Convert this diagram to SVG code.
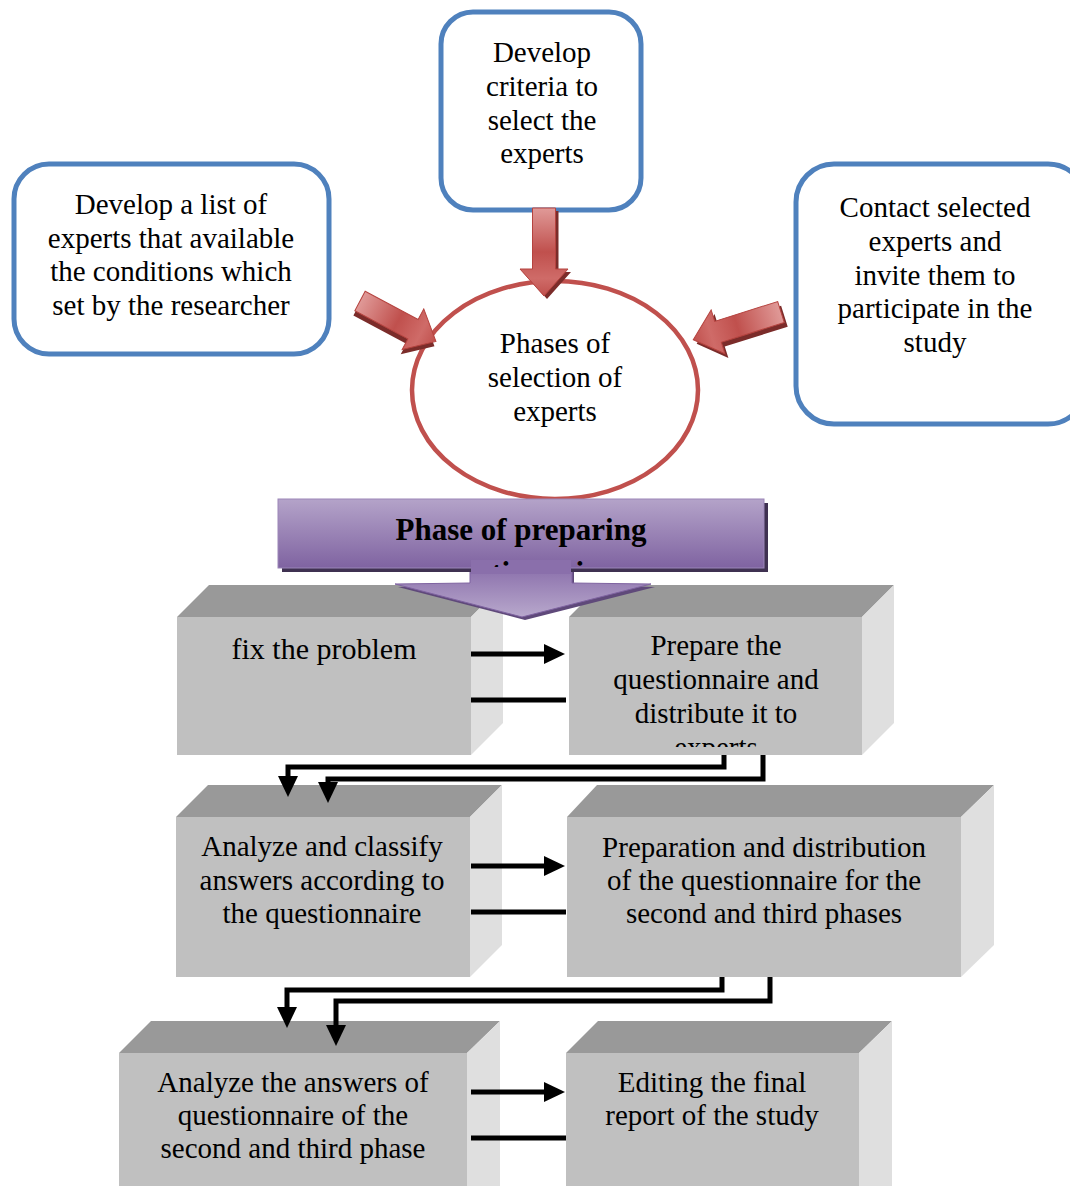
<svg xmlns="http://www.w3.org/2000/svg" width="1070" height="1186" viewBox="0 0 1070 1186">
<style>
  .t { font-family: "Liberation Serif", "Times New Roman", serif; font-size: 29px; fill: #000; text-anchor: middle; }
  .tb { font-family: "Liberation Serif", "Times New Roman", serif; font-size: 31px; font-weight: bold; fill: #000; text-anchor: middle; }
  .blue { fill: #fff; stroke: #4f81bd; stroke-width: 5; }
  .front { fill: #c0c0c0; }
  .top { fill: #999999; }
  .side { fill: #dfdfdf; }
  .con { fill: none; stroke: #000; stroke-width: 5; stroke-linejoin: miter; }
  .red { fill: url(#redg); stroke: #b5433f; stroke-width: 1; }
  .redsh { fill: #7b2c2a; }
</style>
<defs>
  <linearGradient id="redg" x1="0" y1="0" x2="1" y2="0">
    <stop offset="0" stop-color="#e09a98"/>
    <stop offset="0.5" stop-color="#c0504d"/>
    <stop offset="0.8" stop-color="#cf6b68"/>
    <stop offset="1" stop-color="#c0504d"/>
  </linearGradient>
  <linearGradient id="purg" x1="0" y1="0" x2="0" y2="1">
    <stop offset="0" stop-color="#b4a3c9"/>
    <stop offset="1" stop-color="#7f63a1"/>
  </linearGradient>
  <linearGradient id="purg2" x1="0" y1="0" x2="0" y2="1">
    <stop offset="0" stop-color="#8a6fab"/>
    <stop offset="1" stop-color="#b8a8cc"/>
  </linearGradient>
  <marker id="ah" markerUnits="userSpaceOnUse" markerWidth="21" markerHeight="20" viewBox="0 -10 21 20" refX="1" refY="0" orient="auto">
    <path d="M0,-10 L21,0 L0,10 z" fill="#000"/>
  </marker>
  <clipPath id="bannerClip"><rect x="278" y="499" width="486" height="68"/></clipPath>
  <clipPath id="prepClip"><rect x="569" y="617" width="293" height="130"/></clipPath>
</defs>

<!-- Blue boxes -->
<g id="node-criteria">
  <rect class="blue" x="441" y="12" width="200" height="198" rx="32"/>
  <text class="t" x="542" y="62">Develop</text>
  <text class="t" x="542" y="96">criteria to</text>
  <text class="t" x="542" y="130">select the</text>
  <text class="t" x="542" y="163">experts</text>
</g>
<g id="node-list">
  <rect class="blue" x="14" y="164" width="315" height="190" rx="35"/>
  <text class="t" x="171" y="214">Develop a list of</text>
  <text class="t" x="171" y="248">experts that available</text>
  <text class="t" x="171" y="281">the conditions which</text>
  <text class="t" x="171" y="315">set by the researcher</text>
</g>
<g id="node-contact">
  <rect class="blue" x="796" y="164" width="290" height="260" rx="38"/>
  <text class="t" x="935" y="217">Contact selected</text>
  <text class="t" x="935" y="251">experts and</text>
  <text class="t" x="935" y="285">invite them to</text>
  <text class="t" x="935" y="318">participate in the</text>
  <text class="t" x="935" y="352">study</text>
</g>

<!-- Central ellipse -->
<g id="node-phases">
  <ellipse cx="555" cy="390" rx="143" ry="109" fill="#fff" stroke="#c0504d" stroke-width="4.5"/>
  <text class="t" x="555" y="353">Phases of</text>
  <text class="t" x="555" y="387">selection of</text>
  <text class="t" x="555" y="421">experts</text>
</g>

<!-- Red block arrows -->
<g id="red-arrows">
  <g transform="translate(544,208) rotate(90)">
    <polygon class="redsh" transform="translate(3,-3)" points="0,-11.5 61,-11.5 61,-24 88,0 61,24 61,11.5 0,11.5"/>
    <polygon class="red" points="0,-11.5 61,-11.5 61,-24 88,0 61,24 61,11.5 0,11.5"/>
  </g>
  <g transform="translate(360,301) rotate(28)">
    <polygon class="redsh" transform="translate(1,5)" points="0,-11 60,-11 60,-23 86,0 60,23 60,11 0,11"/>
    <polygon class="red" points="0,-11 60,-11 60,-23 86,0 60,23 60,11 0,11"/>
  </g>
  <g transform="translate(781,312) rotate(162.5)">
    <polygon class="redsh" transform="translate(-2,-5)" points="0,-11 66,-11 66,-23 92,0 66,23 66,11 0,11"/>
    <polygon class="red" points="0,-11 66,-11 66,-23 92,0 66,23 66,11 0,11"/>
  </g>
</g>

<!-- Gray 3D boxes -->
<g id="node-fix">
  <polygon class="top" points="177,617 209,585 503,585 471,617"/>
  <polygon class="side" points="471,617 503,585 503,723 471,755"/>
  <rect class="front" x="177" y="617" width="294" height="138"/>
  <text class="t" x="324" y="659" style="font-size:30px">fix the problem</text>
</g>
<g id="node-prepare">
  <polygon class="top" points="569,617 601,585 894,585 862,617"/>
  <polygon class="side" points="862,617 894,585 894,723 862,755"/>
  <rect class="front" x="569" y="617" width="293" height="138"/>
  <g clip-path="url(#prepClip)">
    <text class="t" x="716" y="655">Prepare the</text>
    <text class="t" x="716" y="689">questionnaire and</text>
    <text class="t" x="716" y="723">distribute it to</text>
    <text class="t" x="716" y="757">experts</text>
  </g>
</g>
<g id="node-analyze1">
  <polygon class="top" points="176,817 208,785 502,785 470,817"/>
  <polygon class="side" points="470,817 502,785 502,945 470,977"/>
  <rect class="front" x="176" y="817" width="294" height="160"/>
  <text class="t" x="322" y="856">Analyze and classify</text>
  <text class="t" x="322" y="890">answers according to</text>
  <text class="t" x="322" y="923">the questionnaire</text>
</g>
<g id="node-prep2">
  <polygon class="top" points="567,817 597,785 994,785 961,817"/>
  <polygon class="side" points="961,817 994,785 994,945 961,977"/>
  <rect class="front" x="567" y="817" width="394" height="160"/>
  <text class="t" x="764" y="857">Preparation and distribution</text>
  <text class="t" x="764" y="890">of the questionnaire for the</text>
  <text class="t" x="764" y="923">second and third phases</text>
</g>
<g id="node-analyze2">
  <polygon class="top" points="119,1053 151,1021 500,1021 467,1053"/>
  <polygon class="side" points="467,1053 500,1021 500,1200 467,1200"/>
  <rect class="front" x="119" y="1053" width="348" height="150"/>
  <text class="t" x="293" y="1092">Analyze the answers of</text>
  <text class="t" x="293" y="1125">questionnaire of the</text>
  <text class="t" x="293" y="1158">second and third phase</text>
</g>
<g id="node-editing">
  <polygon class="top" points="566,1053 598,1021 892,1021 859,1053"/>
  <polygon class="side" points="859,1053 892,1021 892,1200 859,1200"/>
  <rect class="front" x="566" y="1053" width="293" height="150"/>
  <text class="t" x="712" y="1092">Editing the final</text>
  <text class="t" x="712" y="1125">report of the study</text>
</g>

<!-- Purple banner with arrow -->
<g id="node-banner">
  <polygon fill="#5f497a" points="470,570 470,585 398,587 525,620 655,587 574,585 574,570"/>
  <polygon fill="url(#purg2)" stroke="#7f63a1" stroke-width="1" points="470,566 470,583 395,584 522,617 651,584 572,583 572,566"/>
  <rect x="282" y="503" width="486" height="69" fill="#3f3151"/>
  <rect x="278" y="499" width="486" height="69" fill="url(#purg)" stroke="#9b86b8" stroke-width="1"/>
  <rect x="471" y="560" width="100" height="14" fill="#8a6fab"/>
  <text class="tb" x="521" y="540">Phase of preparing</text>
  <g clip-path="url(#bannerClip)">
    <text class="tb" x="521" y="583">questionnaire</text>
  </g>
</g>

<!-- Connectors -->
<g id="connectors">
  <line class="con" x1="471" y1="654" x2="545" y2="654" marker-end="url(#ah)"/>
  <line class="con" x1="471" y1="700" x2="566" y2="700"/>
  <line class="con" x1="471" y1="866" x2="545" y2="866" marker-end="url(#ah)"/>
  <line class="con" x1="471" y1="912" x2="566" y2="912"/>
  <line class="con" x1="471" y1="1092" x2="545" y2="1092" marker-end="url(#ah)"/>
  <line class="con" x1="471" y1="1138" x2="566" y2="1138"/>
  <path class="con" d="M724,755 V767 H288 V777" marker-end="url(#ah)"/>
  <path class="con" d="M763,755 V779 H328 V783" marker-end="url(#ah)"/>
  <path class="con" d="M722,977 V990 H287 V1008" marker-end="url(#ah)"/>
  <path class="con" d="M770,977 V1001 H336 V1026" marker-end="url(#ah)"/>
</g>
</svg>
